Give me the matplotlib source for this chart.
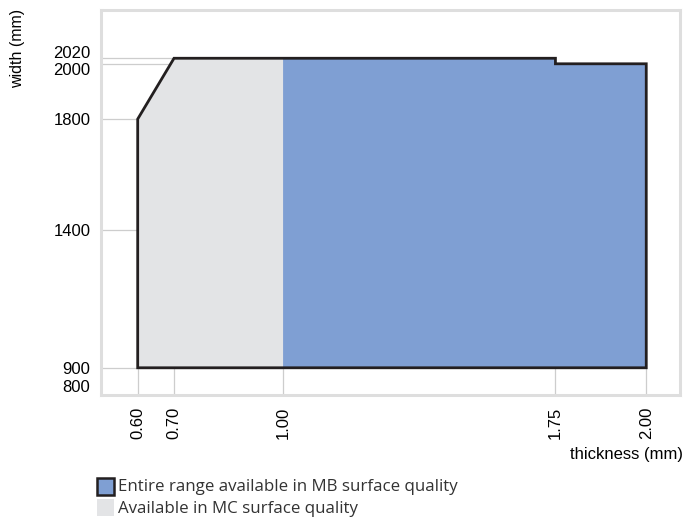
import matplotlib.pyplot as plt
import matplotlib.transforms as mtransforms
from matplotlib.patches import Rectangle

# outline of the full range (thickness mm, width mm)
outline_x = [0.60, 0.60, 0.70, 1.75, 1.75, 2.00, 2.00]
outline_y = [900, 1800, 2020, 2020, 2000, 2000, 900]
# MB part (blue), the rest of the outline is MC only (gray)
mb_x = [1.00, 1.00, 1.75, 1.75, 2.00, 2.00]
mb_y = [900, 2020, 2020, 2000, 2000, 900]

xticks = [0.60, 0.70, 1.00, 1.75, 2.00]
xtick_labels = ['0.60', '0.70', '1.00', '1.75', '2.00']
yticks = [800, 900, 1400, 1800, 2000, 2020]
ytick_labels = ['800', '900', '1400', '1800', '2000', '2020']
# label nudges in pixels (labels pushed apart where they crowd)
ylabel_shift = {800: 9, 2000: -5, 2020: 6}

legend_labels = ['Entire range available in MB surface quality',
                 'Available in MC surface quality']

blue = '#7f9fd3'
gray = '#e3e4e6'
edge = '#231f20'
grid_c = '#cdcdcd'

plt.rcParams['font.family'] = ['Liberation Sans', 'DejaVu Sans']

fig = plt.figure(figsize=(6.84, 5.22), dpi=100)
ax = fig.add_axes([0.1482, 0.2425, 0.846, 0.738])
ax.set_xlim(0.5, 2.093)
ax.set_ylim(800, 2194)

# guide lines only run up to the shape (they end hidden under it)
ax.hlines(yticks, 0.5, 1.0, color=grid_c, lw=0.9, zorder=1)
ax.vlines(xticks, 800, 1400, color=grid_c, lw=0.9, zorder=1)

ax.fill(outline_x, outline_y, color=gray, lw=0, zorder=2)
ax.fill(mb_x, mb_y, facecolor=blue, edgecolor=blue, lw=0.6, zorder=2)
ax.fill(outline_x, outline_y, facecolor='none', edgecolor=edge, lw=2.0,
        joinstyle='miter', zorder=3)

ax.set_xticks(xticks)
ax.set_xticklabels(xtick_labels, rotation=90, fontsize=12)
ax.set_yticks(yticks)
ax.set_yticklabels(ytick_labels, fontsize=12)
ax.tick_params(length=0, pad=8)
ax.tick_params(axis='x', pad=8)
for s in ax.spines.values():
    s.set_color('#dedede')
    s.set_linewidth(2.2)

for val, lab in zip(yticks, ax.get_yticklabels()):
    dy = ylabel_shift.get(val, 0)
    if dy:
        lab.set_transform(lab.get_transform() +
                          mtransforms.ScaledTranslation(0, dy / 100, fig.dpi_scale_trans))

fig.text(18 / 684, 1 - 48 / 522, 'width (mm)', rotation=90, fontsize=11.5,
         ha='center', va='center')
fig.text(683 / 684, 1 - 455 / 522, 'thickness (mm)', fontsize=12,
         ha='right', va='center')

# legend
fig.add_artist(Rectangle((97 / 684, 1 - 495 / 522), 17 / 684, 17 / 522,
                         facecolor=blue, edgecolor=edge, lw=1.8,
                         transform=fig.transFigure))
fig.add_artist(Rectangle((97 / 684, 1 - 516 / 522), 17 / 684, 17 / 522,
                         facecolor=gray, edgecolor='none',
                         transform=fig.transFigure))
fig.text(118 / 684, 1 - 487 / 522, legend_labels[0], fontsize=12.2,
         family=['Open Sans', 'DejaVu Sans'], color='#333333', va='center')
fig.text(118 / 684, 1 - 509 / 522, legend_labels[1], fontsize=12.2,
         family=['Open Sans', 'DejaVu Sans'], color='#333333', va='center')

fig.savefig('out.png', dpi=100)
